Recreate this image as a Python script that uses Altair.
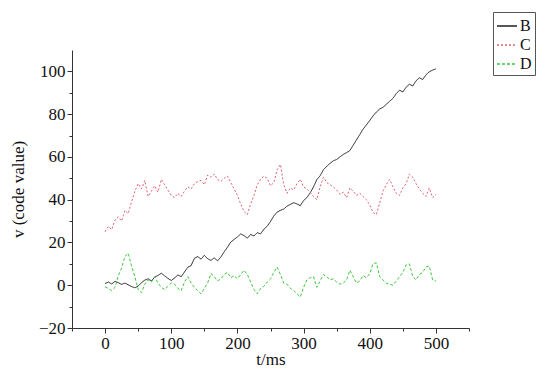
import altair as alt
import pandas as pd

t_ms = list(range(0, 501, 5))

B = [0.8, 1.5, 0.6, 1.8, 1.2, 0.4, 1.0, 0.2, -0.6, -1.2,
     -0.4, 1.2, 2.4, 3.0, 2.0, 3.8, 4.6, 5.6, 4.4, 3.2,
     2.2, 3.4, 4.8, 4.0, 6.2, 8.4, 9.2, 12.6, 13.4, 12.2,
     14.0, 12.4, 11.6, 12.8, 11.4, 13.2, 15.6, 17.8, 20.2, 21.4,
     22.6, 24.0, 23.2, 22.0, 23.8, 23.0, 24.6, 24.0, 26.2, 27.6,
     29.8, 32.4, 34.2, 35.0, 35.6, 37.0, 37.8, 38.6, 38.0, 37.2,
     39.6, 41.0, 43.2, 46.0, 49.4, 51.2, 54.0, 55.6, 57.0, 58.2,
     58.8, 60.0, 61.2, 62.0, 63.0, 65.5, 68.0, 70.5, 73.0, 75.0,
     77.0, 79.2, 81.0, 82.4, 83.2, 84.6, 86.0, 87.4, 89.6, 91.2,
     90.4, 92.6, 94.0, 93.2, 95.6, 97.0, 96.2, 98.4, 99.8, 100.6,
     101.2]

C = [25.0, 27.5, 26.0, 30.5, 32.0, 30.0, 35.0, 33.5, 39.0, 44.0,
     47.5, 45.0, 49.0, 41.5, 44.0, 46.5, 43.5, 49.5, 47.0, 44.5,
     42.0, 41.0, 43.0, 41.5, 44.0, 46.0, 45.0, 47.5, 48.5, 49.0,
     47.0, 51.5, 50.5, 52.0, 49.5, 48.5, 50.0, 51.0, 48.0, 45.0,
     42.0, 38.0, 34.5, 33.0, 38.0, 42.0, 47.0, 49.5, 51.0, 50.0,
     46.5, 48.0, 54.0, 56.5, 47.0, 43.0, 45.5, 44.5, 47.5, 49.5,
     46.0, 45.0, 43.5, 41.5, 40.0, 46.0, 50.5, 48.0, 47.0, 46.0,
     44.5, 42.5, 43.5, 41.0, 45.5, 44.0, 42.0, 43.0, 41.5, 40.0,
     37.5, 34.0, 33.0, 38.5, 44.0, 47.0, 49.5, 46.0, 43.0, 42.0,
     45.5, 47.5, 52.0, 50.5, 47.5, 45.0, 43.0, 41.5, 45.5, 41.0,
     42.5]

D = [-0.8, -1.5, -2.5, -1.0, 4.5, 8.0, 13.5, 15.0, 9.0, 4.0,
     -2.0, -3.5, 0.5, 2.5, 1.5, 4.0, 1.0, -1.0, -2.0, -0.5,
     1.0, 0.5, -1.5, -2.5, 1.5, 4.0, 1.0, -1.0, -2.5, -4.0,
     -1.5, 1.0, 5.5, 4.0, 2.0, 3.0, 5.0, 6.0, 3.5, 4.5,
     3.0, 5.0, 7.0, 5.0, 1.5, -2.0, -4.0, -1.5, -0.5, 1.5,
     3.0, 6.0, 8.5, 5.0, 1.0, 0.5, -1.5, -2.5, -4.0, -5.5,
     -1.0, 2.5, 3.5, 4.0, -1.0, 2.0, 5.0, 4.0, 2.5, 3.0,
     1.5, 0.5, 1.0, 2.5, 7.0, 4.0, 1.0, 2.0, 4.5, 3.5,
     5.5, 10.0, 10.5, 4.0, 2.5, 1.0, 0.5, 0.0, 2.0, 4.0,
     6.0, 9.5, 10.0, 4.0, 2.5, 5.0, 6.0, 8.5, 9.0, 2.5,
     2.0]

series_names = ["B", "C", "D"]
series_colors = ["#222222", "#e0606e", "#3fc83f"]
series_dashes = [[1, 0], [2, 2], [3, 2]]

x_ticks = list(range(-50, 551, 50))
y_ticks = list(range(-20, 101, 10))

rows = []
for name, vals in zip(series_names, (B, C, D)):
    for ti, v in zip(t_ms, vals):
        rows.append({"t": ti, "v": v, "series": name})
df = pd.DataFrame(rows)

font = "Times New Roman"

legend = alt.Legend(
    title=None, orient="none", legendX=421, legendY=-38,
    strokeColor="#555555", fillColor="white", padding=3,
    symbolType="stroke", symbolSize=400, symbolStrokeWidth=1.5,
    labelFont=font, labelFontSize=16, labelColor="#111111",
    rowPadding=0, labelOffset=2,
)

chart = alt.Chart(df).mark_line(strokeWidth=1).encode(
    x=alt.X(
        "t:Q",
        scale=alt.Scale(domain=[-50, 550], nice=False, zero=False),
        axis=alt.Axis(
            values=x_ticks, grid=False, title="t/ms",
            labelExpr="(datum.value % 100 === 0 && datum.value >= 0 && datum.value <= 500) ? datum.label : ''",
            tickSize={"condition": {"test": "datum.value % 100 === 0", "value": 5}, "value": 3},
            labelFont=font, labelFontSize=17, labelColor="#111111", labelPadding=2,
            titleFont=font, titleFontSize=17, titleFontWeight="normal", titleColor="#111111",
            titlePadding=0, domainColor="#333333", tickColor="#333333",
            labelFlush=False, labelOverlap=False,
        ),
    ),
    y=alt.Y(
        "v:Q",
        scale=alt.Scale(domain=[-20, 110], nice=False, zero=False),
        axis=alt.Axis(
            values=y_ticks, grid=False, title="v (code value)",
            labelExpr="datum.value % 20 === 0 ? datum.label : ''",
            tickSize={"condition": {"test": "datum.value % 20 === 0", "value": 5}, "value": 3},
            labelFont=font, labelFontSize=17, labelColor="#111111", labelPadding=2,
            titleFont=font, titleFontSize=17, titleFontWeight="normal", titleColor="#111111",
            titlePadding=11, domainColor="#333333", tickColor="#333333",
            labelFlush=False, labelOverlap=False,
        ),
    ),
    color=alt.Color("series:N", scale=alt.Scale(domain=series_names, range=series_colors), legend=legend),
    strokeDash=alt.StrokeDash("series:N", scale=alt.Scale(domain=series_names, range=series_dashes), legend=legend),
    order=alt.Order("series:N", sort="descending"),
).properties(
    width=397, height=278,
    autosize=alt.AutoSizeParams(type="none"),
    padding={"left": 64, "top": 42, "right": 76, "bottom": 40},
    background="white",
).configure_view(stroke=None)

chart.save("out.html", embed_options={"renderer": "svg", "actions": False})
